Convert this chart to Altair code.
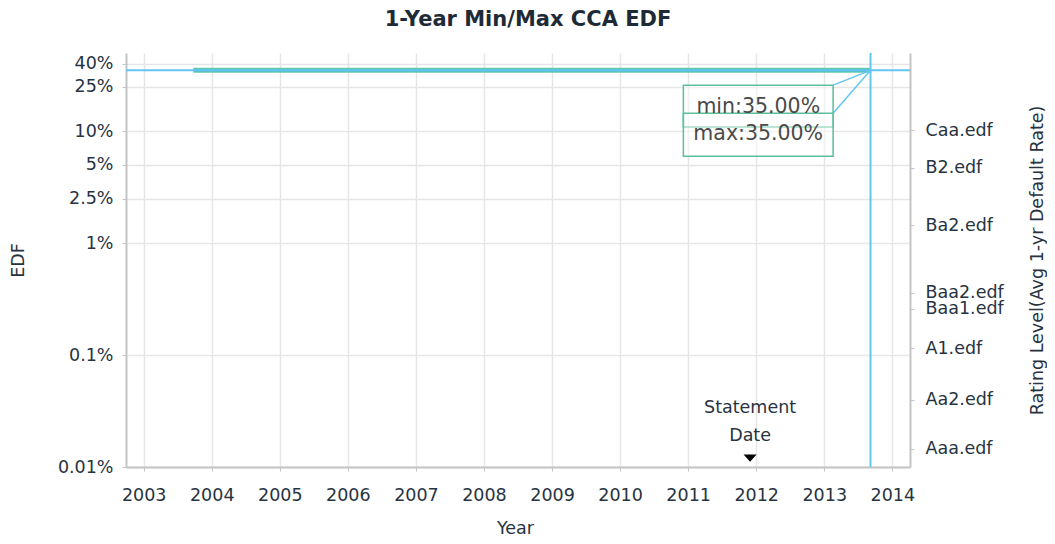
import altair as alt
import pandas as pd

# ---------------- data ----------------
years = list(range(2003, 2015))
edf_ticks = [0.0001, 0.001, 0.01, 0.025, 0.05, 0.1, 0.25, 0.4]

rating_names = ["Caa.edf", "B2.edf", "Ba2.edf", "Baa2.edf", "Baa1.edf", "A1.edf", "Aa2.edf", "Aaa.edf"]
rating_values = [0.102, 0.047, 0.0145, 0.0036, 0.0026, 0.00115, 0.0004, 0.000145]

series_years = [2003.73, 2013.68]
min_edf = [0.35, 0.35]
max_edf = [0.35, 0.35]

cursor_year = 2013.68
cursor_edf = 0.35

statement_year = 2011.91
statement_edf = 0.00012

# tooltip boxes (data coordinates)
tip_labels = ["min:35.00%", "max:35.00%"]
tip_x0 = [2010.93, 2010.93]
tip_x1 = [2013.13, 2013.13]
tip_top = [0.258, 0.145]
tip_bottom = [0.109, 0.0598]
tip_text_y = [0.165, 0.0935]

X_DOMAIN = [2002.74, 2014.26]
Y_DOMAIN = [0.0001, 0.5]

FONT = "DejaVu Sans"
TXT = "#27333f"
GRID = "#e6e6e6"
DOMAIN = "#c4c4c4"
CURSOR = "#62c6f0"
MIN_C = "#62c9a8"
MAX_C = "#4bb3d6"
BOX_C = "#5bbf9a"

xs = alt.Scale(domain=X_DOMAIN, nice=False, zero=False)
ys = alt.Scale(type="log", domain=Y_DOMAIN, nice=False)

series_df = pd.DataFrame({"year": series_years, "min": min_edf, "max": max_edf})
cursor_df = pd.DataFrame({"year": [cursor_year], "edf": [cursor_edf]})
tips_df = pd.DataFrame({
    "label": tip_labels, "x0": tip_x0, "x1": tip_x1,
    "top": tip_top, "bottom": tip_bottom, "ty": tip_text_y,
    "cx": [cursor_year] * 2, "cy": [cursor_edf] * 2,
})
tips_df["xm"] = (tips_df["x0"] + tips_df["x1"]) / 2
stmt_df = pd.DataFrame({"year": [statement_year], "edf": [statement_edf], "label": ["Statement\nDate"]})
rating_df = pd.DataFrame({"name": rating_names, "value": rating_values})

common_axis = dict(labelFont=FONT, titleFont=FONT, labelColor=TXT, titleColor=TXT,
                   labelFontSize=17.5, titleFontSize=17.5, titleFontWeight="normal",
                   domainColor=DOMAIN, domainWidth=2, tickColor=DOMAIN)

x_axis = alt.Axis(values=years, format="d", title="Year", grid=True, gridColor=GRID, gridWidth=1.5,
                  tickSize=4, labelPadding=15,
                  titleX=389, titleY=61, titleBaseline="middle", **common_axis)
y_axis = alt.Axis(values=edf_ticks, format=".2~%", title="EDF", grid=True, gridColor=GRID, gridWidth=1.5,
                  tickSize=4, labelPadding=9, labelOverlap=False,
                  titleX=-108, titleY=207, titleAngle=270, titleBaseline="middle", **common_axis)

# main layer carrying axes: min line
min_line = alt.Chart(series_df).mark_line(color=MIN_C, strokeWidth=5).encode(
    x=alt.X("year:Q", scale=xs, axis=x_axis),
    y=alt.Y("min:Q", scale=ys, axis=y_axis),
)
max_line = alt.Chart(series_df).mark_line(color=MAX_C, strokeWidth=2.5).encode(
    x=alt.X("year:Q", scale=xs),
    y=alt.Y("max:Q", scale=ys, axis=None),
)
h_cursor = alt.Chart(cursor_df).mark_rule(color=CURSOR, strokeWidth=2).encode(
    y=alt.Y("edf:Q", scale=ys, axis=None),
)
v_cursor = alt.Chart(cursor_df).mark_rule(color=CURSOR, strokeWidth=2).encode(
    x=alt.X("year:Q", scale=xs),
)
connectors = alt.Chart(tips_df).mark_rule(color=CURSOR, strokeWidth=1.5).encode(
    x=alt.X("x1:Q", scale=xs),
    y=alt.Y("top:Q", scale=ys, axis=None),
    x2="cx:Q",
    y2="cy:Q",
)
boxes = alt.Chart(tips_df).mark_rect(fill="white", fillOpacity=0.45, stroke=BOX_C, strokeWidth=1.5).encode(
    x=alt.X("x0:Q", scale=xs),
    x2="x1:Q",
    y=alt.Y("top:Q", scale=ys, axis=None),
    y2="bottom:Q",
)
tip_text = alt.Chart(tips_df).mark_text(font=FONT, fontSize=20.5, color="#4a4a4a", align="center",
                                        baseline="middle").encode(
    x=alt.X("xm:Q", scale=xs),
    y=alt.Y("ty:Q", scale=ys, axis=None),
    text="label:N",
)
stmt_mark = alt.Chart(stmt_df).mark_point(shape="M -1 -0.55 L 1 -0.55 L 0 0.55 Z", size=169,
                                          filled=True, color="black", opacity=1).encode(
    x=alt.X("year:Q", scale=xs),
    y=alt.Y("edf:Q", scale=ys, axis=None),
)
stmt_text = alt.Chart(stmt_df).mark_text(font=FONT, fontSize=17.5, color=TXT, align="center",
                                         baseline="alphabetic", lineBreak="\n", lineHeight=28,
                                         dy=-45).encode(
    x=alt.X("year:Q", scale=xs),
    y=alt.Y("edf:Q", scale=ys, axis=None),
    text="label:N",
)

label_expr = " : ".join(
    f"abs(datum.value - {v}) < 1e-9 ? '{n}'" for n, v in zip(rating_names, rating_values)
) + " : ''"
right_axis = alt.Chart(rating_df).mark_point(opacity=0).encode(
    x=alt.X("value:Q", scale=xs),
    y=alt.Y("value:Q", scale=ys,
            axis=alt.Axis(orient="right", values=rating_values, labelExpr=label_expr,
                          title="Rating Level(Avg 1-yr Default Rate)", grid=False,
                          tickSize=4, labelPadding=11, labelOverlap=False,
                          titleX=127, titleY=207, titleAngle=270, titleBaseline="middle",
                          **common_axis)),
)

chart = alt.layer(
    min_line, max_line, h_cursor, v_cursor, connectors, boxes, tip_text, stmt_mark, stmt_text, right_axis
).resolve_scale(y="independent").properties(
    width=784, height=414,
    autosize=alt.AutoSizeParams(type="none"),
    padding={"left": 118, "top": 45, "right": 137, "bottom": 69},
    background="white",
    title=alt.Title("1-Year Min/Max CCA EDF", font=FONT, fontSize=21, fontWeight="bold",
                    color="#1e2a36", anchor="middle", offset=22, dx=10),
).configure_view(stroke=None)

chart.save("out.html", embed_options={"renderer": "svg", "actions": False})
